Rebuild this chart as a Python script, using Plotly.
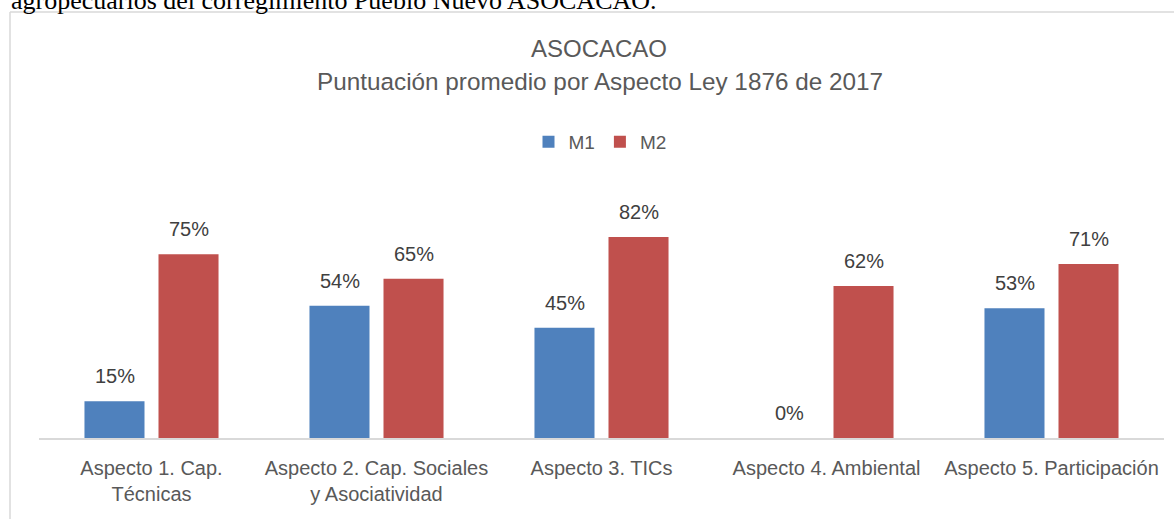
import plotly.graph_objects as go

categories = ["Aspecto 1. Cap.<br>Técnicas", "Aspecto 2. Cap. Sociales<br>y Asociatividad",
              "Aspecto 3. TICs", "Aspecto 4. Ambiental", "Aspecto 5. Participación"]
m1 = [0.15, 0.54, 0.45, 0.00, 0.53]
m2 = [0.75, 0.65, 0.82, 0.62, 0.71]
series_names = ["M1", "M2"]
title_line1 = "ASOCACAO"
title_line2 = "Puntuación promedio por Aspecto Ley 1876 de 2017"
caption = "agropecuarios del corregimiento Pueblo Nuevo ASOCACAO."

FONT = "Liberation Sans, Arial, sans-serif"
BLUE = "#4F81BD"
RED = "#C0504D"

W, H = 1174, 519
L, R, T, B = 39, 10, 193, 81
pw = W - L - R
ph = H - T - B


def px_x(x):
    return (x - L) / pw


def px_y(y):
    return (H - B - y) / ph


fig = go.Figure()
fig.add_trace(go.Bar(name=series_names[0], x=categories, y=m1, marker=dict(color=BLUE, line=dict(width=0))))
fig.add_trace(go.Bar(name=series_names[1], x=categories, y=m2, marker=dict(color=RED, line=dict(width=0))))

annotations = []
slot_px = 74
for vals, shift in ((m1, -slot_px / 2), (m2, slot_px / 2)):
    for c, v in zip(categories, vals):
        annotations.append(dict(x=c, y=v, xref="x", yref="y", text=f"{round(v*100)}%",
                                showarrow=False, xshift=shift, yshift=12, yanchor="bottom",
                                font=dict(family=FONT, size=20, color="#404040")))

annotations.append(dict(x=px_x(599), y=px_y(48), xref="paper", yref="paper", text=title_line1,
                        showarrow=False, xanchor="center", yanchor="middle",
                        font=dict(family=FONT, size=24, color="#595959")))
annotations.append(dict(x=px_x(600), y=px_y(81), xref="paper", yref="paper", text=title_line2,
                        showarrow=False, xanchor="center", yanchor="middle",
                        font=dict(family=FONT, size=24.3, color="#595959")))
annotations.append(dict(x=px_x(9), y=px_y(17), xref="paper", yref="paper", text=caption,
                        showarrow=False, xanchor="left", yanchor="bottom",
                        font=dict(family="Liberation Serif, Times New Roman, serif", size=26, color="#000000")))

shapes = [
    dict(type="line", xref="paper", yref="paper", x0=px_x(10), x1=px_x(10), y0=px_y(12), y1=px_y(540),
         line=dict(color="#D9D9D9", width=1.5)),
    dict(type="line", xref="paper", yref="paper", x0=px_x(10), x1=px_x(1200), y0=px_y(12), y1=px_y(12),
         line=dict(color="#D9D9D9", width=1.5)),
]

fig.update_layout(
    width=W, height=H, autosize=False,
    margin=dict(l=L, r=R, t=T, b=B, pad=0),
    paper_bgcolor="white", plot_bgcolor="white",
    barmode="group", bargap=0.342, bargroupgap=0.189,
    font=dict(family=FONT, size=20, color="#595959"),
    showlegend=True,
    legend=dict(orientation="h", x=px_x(600), y=px_y(142), xanchor="center", yanchor="middle",
                font=dict(family=FONT, size=19, color="#595959"), itemwidth=30,
                bgcolor="rgba(0,0,0,0)"),
    annotations=annotations,
    shapes=shapes,
    xaxis=dict(showline=True, linecolor="#D9D9D9", linewidth=2, ticks="", showgrid=False,
               tickangle=0, automargin=False, ticklabelstandoff=11,
               tickfont=dict(family=FONT, size=20, color="#595959"), fixedrange=True),
    yaxis=dict(range=[0, 1], visible=False, showgrid=False, zeroline=False, fixedrange=True,
               automargin=False),
)

fig.write_html("out.html", config={"displayModeBar": False},
               post_script="document.body.style.margin='0';document.body.style.overflow='hidden';")
